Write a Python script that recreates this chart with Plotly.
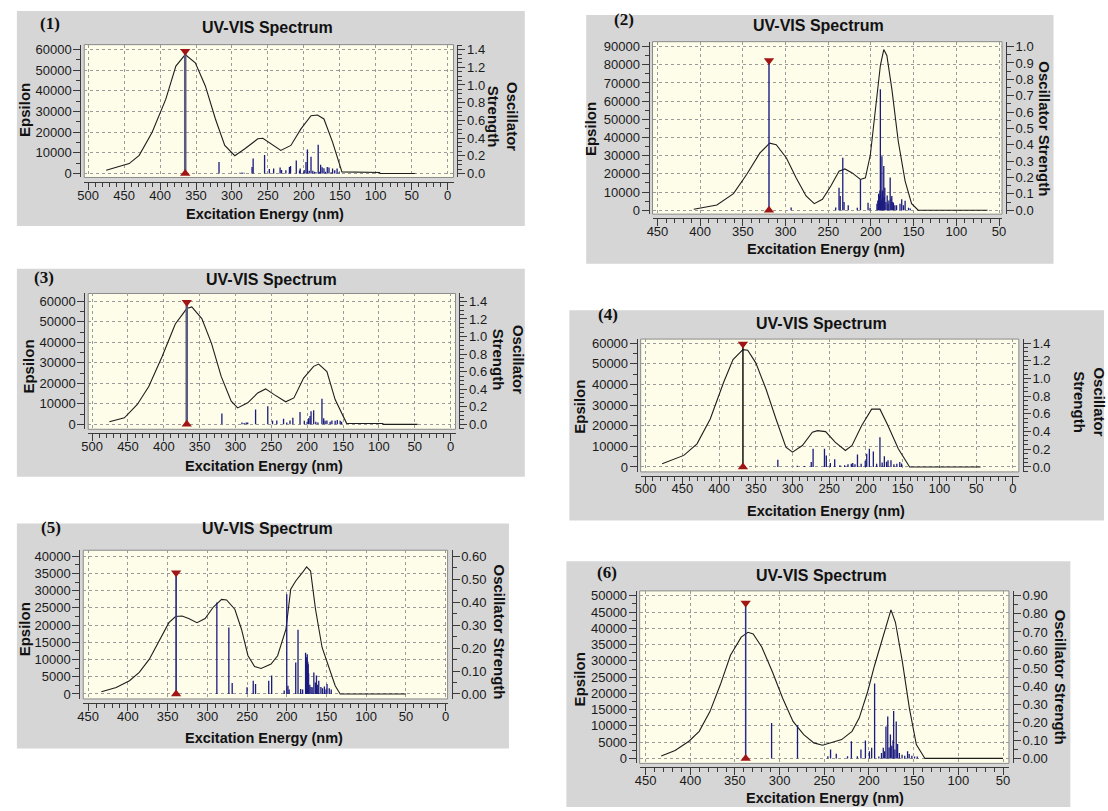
import plotly.graph_objects as go

W, H = 1108, 811

# ---------------- data ----------------
# Panel 1
wl_1 = [475, 443, 429, 411, 392, 378, 365, 351, 337, 323, 310, 296, 282, 264, 257, 245, 232, 218, 204, 190, 181, 172, 160, 147, 120, 94.5, 94, 45]
eps_1 = [1600, 4800, 8800, 20000, 36000, 52000, 57600, 53600, 42400, 26400, 13600, 8600, 12000, 16800, 17100, 14400, 11200, 13600, 21600, 28000, 28300, 26400, 15200, 800, 480, 480, 0, 0]
stk_wl_1 = [318, 289, 286, 283, 272, 270.5, 254.6, 248, 242, 233, 231, 225, 220, 218.5, 210.5, 206, 205, 200, 199.5, 197, 195, 192.5, 190, 187.5, 185, 183, 180, 178.5, 176.6, 174.5, 172, 170, 167.4, 165, 162, 160, 157, 153.7, 151]
stk_f_1 = [0.13, 0.01, 0.012, 0.01, 0.075, 0.17, 0.21, 0.05, 0.056, 0.067, 0.04, 0.037, 0.075, 0.086, 0.146, 0.035, 0.056, 0.015, 0.04, 0.13, 0.27, 0.03, 0.19, 0.03, 0.02, 0.015, 0.325, 0.02, 0.1, 0.07, 0.06, 0.02, 0.075, 0.067, 0.015, 0.056, 0.037, 0.056, 0.015]
peak_wl_1, peak_f_1 = 365, 1.38

# Panel 2
wl_2 = [407.5, 380.4, 361, 345.6, 330, 318.6, 310.9, 299, 287.7, 276, 266.4, 256.8, 247, 237.4, 230.5, 222, 212.3, 206.5, 200.7, 195, 189, 185, 181.4, 175.6, 168, 160, 152.4, 144.7, 63.5]
eps_2 = [550, 2900, 9100, 19600, 31500, 36900, 36000, 28700, 17800, 7800, 3600, 6000, 13300, 21500, 22700, 20500, 16900, 17800, 30500, 54200, 79600, 88400, 85100, 66900, 37800, 16000, 3600, 0, 0]
stk_wl_2 = [293.5, 241.3, 237.4, 236, 233, 231.5, 226.6, 216, 212.3, 203.4, 201, 193, 192, 191, 190, 189.5, 189, 188.5, 188, 187.2, 186.5, 186, 185, 184.5, 183.8, 182.5, 181, 180, 179, 177.5, 176.5, 175.6, 174.5, 173.7, 172, 170, 166, 164, 162, 160, 156, 154]
stk_f_2 = [0.016, 0.016, 0.137, 0.087, 0.32, 0.05, 0.03, 0.015, 0.188, 0.046, 0.015, 0.04, 0.06, 0.1, 0.09, 0.12, 0.74, 0.1, 0.06, 0.33, 0.12, 0.08, 0.27, 0.08, 0.137, 0.05, 0.09, 0.04, 0.06, 0.2, 0.07, 0.087, 0.05, 0.046, 0.03, 0.03, 0.04, 0.067, 0.03, 0.057, 0.015, 0.01]
peak_wl_2, peak_f_2 = 319.4, 0.915

# Panel 3
wl_3 = [476, 455, 437, 421, 402.5, 384, 368, 361, 347, 333.5, 320, 306, 297, 283, 269, 258, 246, 230, 218.5, 205, 191, 184, 172.5, 161, 145, 120, 94.5, 94, 46]
eps_3 = [1290, 3200, 9700, 18500, 33000, 49000, 56500, 57300, 51600, 39500, 23400, 11300, 8000, 10500, 15300, 17300, 14500, 11000, 12900, 22600, 28300, 29400, 25800, 12100, 480, 400, 400, 0, 0]
stk_wl_3 = [319, 291, 288, 285, 283, 272, 255, 248.4, 242.4, 233, 228.5, 224, 220, 210, 204, 200, 198, 196, 194.6, 191, 188, 185, 179.4, 177, 175, 172.5, 168, 165.5, 161, 158, 154, 152]
stk_f_3 = [0.124, 0.02, 0.015, 0.02, 0.02, 0.17, 0.207, 0.04, 0.045, 0.064, 0.02, 0.045, 0.075, 0.14, 0.04, 0.03, 0.07, 0.094, 0.15, 0.16, 0.03, 0.02, 0.29, 0.07, 0.04, 0.045, 0.03, 0.045, 0.04, 0.05, 0.04, 0.03]
peak_wl_3, peak_f_3 = 368, 1.39

# Panel 4
wl_4 = [477.5, 448, 430, 412, 394, 381, 367.5, 361, 350, 336, 322.5, 309, 300, 286.6, 273, 266, 255, 242, 228, 219, 206, 192.3, 181, 170, 156, 140.6, 44]
eps_4 = [1600, 5600, 11200, 23200, 40800, 52000, 56800, 56500, 50400, 37600, 23200, 9600, 7200, 10400, 16800, 17600, 17100, 12000, 8000, 10400, 20000, 28000, 28000, 20000, 8800, 0, 0]
stk_wl_4 = [320, 293.5, 284, 274.5, 272, 256.5, 254, 248.5, 242.6, 235.5, 229, 224.5, 220, 218, 215, 211.6, 206.6, 201, 199, 195.4, 190, 185.5, 181, 178, 175, 172, 170, 166, 162, 158, 154, 151.5]
stk_f_4 = [0.082, 0.015, 0.012, 0.056, 0.205, 0.205, 0.13, 0.045, 0.086, 0.02, 0.02, 0.03, 0.037, 0.045, 0.03, 0.14, 0.037, 0.07, 0.15, 0.205, 0.175, 0.037, 0.336, 0.05, 0.12, 0.06, 0.075, 0.075, 0.03, 0.035, 0.056, 0.04]
peak_wl_4, peak_f_4 = 367.5, 1.39

# Panel 5
wl_5 = [433.4, 414.7, 398, 385.7, 373, 360.8, 348.4, 340, 331.8, 323.5, 313, 302.8, 292.4, 282, 275.8, 265.4, 257, 248.8, 240.5, 232.3, 219.8, 211.5, 201, 195, 188.7, 180.4, 175, 170, 163.8, 155.5, 147.2, 139, 132.7, 49.8]
eps_5 = [670, 1900, 3860, 6260, 10100, 15400, 20700, 22500, 22650, 21900, 20700, 21900, 25250, 27470, 27300, 24600, 18800, 11100, 8000, 7400, 8700, 11100, 18800, 30400, 32800, 35200, 36900, 35700, 24600, 13500, 8200, 2400, 0, 0]
stk_wl_5 = [288, 272.9, 268.7, 250, 242.2, 239.3, 222.7, 219, 203.2, 200, 198.5, 197, 188.7, 185.8, 182.5, 180, 176.3, 175.5, 175, 174.2, 173.5, 173, 172.5, 171, 169.5, 168, 165.9, 164, 162.6, 161, 159.7, 157, 155, 152.6, 150.5, 149.3, 146.5, 144]
stk_f_5 = [0.398, 0.29, 0.048, 0.029, 0.058, 0.043, 0.058, 0.08, 0.015, 0.434, 0.036, 0.02, 0.137, 0.28, 0.022, 0.02, 0.18, 0.15, 0.16, 0.173, 0.14, 0.13, 0.09, 0.04, 0.03, 0.029, 0.094, 0.05, 0.08, 0.04, 0.058, 0.03, 0.025, 0.033, 0.02, 0.043, 0.025, 0.02]
peak_wl_5, peak_f_5 = 339.3, 0.528

# Panel 6
wl_6 = [432.5, 417, 401.5, 390, 378, 366.5, 355, 343, 335.4, 329.6, 320, 308, 296.6, 285, 273, 261.7, 252, 242, 230.6, 219, 211, 201.5, 193.7, 186, 178, 175.4, 170.4, 162.6, 154.8, 147, 137.4, 50]
eps_6 = [710, 2440, 5280, 8330, 14400, 22560, 31700, 37300, 38800, 38300, 34250, 26600, 18500, 11400, 7300, 4780, 4070, 4780, 5800, 8330, 12400, 20500, 28660, 35800, 43900, 45700, 41870, 29700, 15450, 4270, 0, 0]
stk_wl_6 = [309, 280, 246, 243, 236.6, 224, 219.7, 213, 209, 204, 199.5, 197, 193.7, 189, 186, 184, 182.5, 181, 179, 177.5, 176, 174.5, 173, 172.4, 171, 169.5, 168, 166, 163, 160, 156.8, 155, 152, 149, 146]
stk_f_6 = [0.196, 0.183, 0.012, 0.049, 0.026, 0.012, 0.095, 0.012, 0.049, 0.099, 0.04, 0.059, 0.415, 0.01, 0.03, 0.059, 0.04, 0.177, 0.232, 0.06, 0.132, 0.07, 0.1, 0.263, 0.05, 0.205, 0.08, 0.03, 0.02, 0.015, 0.04, 0.025, 0.015, 0.01, 0.01]
peak_wl_6, peak_f_6 = 338, 0.86

# tick settings per panel
x_dtick = [50, 50, 50, 50, 50, 50]
eps_dtick = [10000, 10000, 10000, 10000, 5000, 5000]
osc_dtick = [0.2, 0.1, 0.2, 0.2, 0.1, 0.1]
osc_fmt = [".1f", ".1f", ".1f", ".1f", ".2f", ".2f"]
labels = ["(1)", "(2)", "(3)", "(4)", "(5)", "(6)"]
osc_titles = ["Oscillator<br>Strength", "Oscillator Strength", "Oscillator<br>Strength",
              "Oscillator<br>Strength", "Oscillator Strength", "Oscillator Strength"]

curves = [(wl_1, eps_1), (wl_2, eps_2), (wl_3, eps_3), (wl_4, eps_4), (wl_5, eps_5), (wl_6, eps_6)]
sticks = [(stk_wl_1, stk_f_1), (stk_wl_2, stk_f_2), (stk_wl_3, stk_f_3),
          (stk_wl_4, stk_f_4), (stk_wl_5, stk_f_5), (stk_wl_6, stk_f_6)]
peaks = [(peak_wl_1, peak_f_1), (peak_wl_2, peak_f_2), (peak_wl_3, peak_f_3),
         (peak_wl_4, peak_f_4), (peak_wl_5, peak_f_5), (peak_wl_6, peak_f_6)]

# ---------------- layout geometry (pixels) ----------------
geom = [
    dict(gray=(10, 8, 523, 225), frame=(78, 42, 451, 176), xt=((82, 500), (445, 0)),
         yt=((47, 60000), (172, 0)), rt=((47, 1.4), (172, 0)), xline=181,
         title=(263, 25), label=(43, 21), eps=(17, 108), osc=(501, 114), xtitle=(261, 213),
         peakcolor="#5a5a7e", peakw=2.5),
    dict(gray=(585, 12, 1057, 263), frame=(652, 39, 1005, 213), xt=((657, 450), (1002, 50)),
         yt=((44, 90000), (209, 0)), rt=((44, 1.0), (209, 0)), xline=217,
         title=(820, 23), label=(623, 17), eps=(590, 127), osc=(1048, 127), xtitle=(827, 248),
         peakcolor="#2a2a8a", peakw=1.5),
    dict(gray=(10, 268, 523, 478), frame=(82, 293, 453, 430), xt=((86, 500), (448, 0)),
         yt=((301, 60000), (425, 0)), rt=((301, 1.4), (425, 0)), xline=434,
         title=(267, 279), label=(37, 277), eps=(22, 367), osc=(506, 360), xtitle=(260, 467),
         peakcolor="#5a5a7e", peakw=2.5),
    dict(gray=(568, 310, 1108, 522), frame=(640, 339, 1022, 473), xt=((645, 500), (1016, 0)),
         yt=((343, 60000), (468, 0)), rt=((343, 1.4), (468, 0)), xline=477,
         title=(823, 323), label=(607, 314), eps=(578, 407), osc=(1093, 402), xtitle=(827, 512),
         peakcolor="#111111", peakw=1.5),
    dict(gray=(10, 525, 507, 752), frame=(77, 552, 445, 702), xt=((82, 450), (443, 0)),
         yt=((558, 40000), (697, 0)), rt=((558, 0.6), (697, 0)), xline=706,
         title=(263, 530), label=(44, 529), eps=(18, 632), osc=(497, 634), xtitle=(260, 741),
         peakcolor="#3a3a8a", peakw=1.8),
    dict(gray=(565, 563, 1074, 811), frame=(639, 593, 1012, 767), xt=((645, 450), (1006, 50)),
         yt=((598, 50000), (762, 0)), rt=((598, 0.9), (762, 0)), xline=771,
         title=(823, 577), label=(606, 574), eps=(578, 682), osc=(1064, 680), xtitle=(826, 802),
         peakcolor="#2a2a8a", peakw=1.5),
]


def lin(p, a, b):
    (pa, va), (pb, vb) = a, b
    return va + (p - pa) * (vb - va) / (pb - pa)


FONT = "Liberation Sans, Arial, sans-serif"
TICKFONT = dict(family=FONT, size=13, color="#1a1a1a")
GRID = "#9a9a9a"
AX = "#3a3a3a"

fig = go.Figure()
shapes = []
annotations = []
layout = {}

for i, g in enumerate(geom):
    n = i + 1
    xid = "x" if n == 1 else f"x{n}"
    yid = "y" if n == 1 else f"y{n}"
    rid = f"y{n + 6}"
    xkey = "xaxis" if n == 1 else f"xaxis{n}"
    ykey = "yaxis" if n == 1 else f"yaxis{n}"
    rkey = f"yaxis{n + 6}"

    fx0, fy0, fx1, fy1 = g["frame"]
    gx0, gy0, gx1, gy1 = g["gray"]
    shapes.append(dict(type="rect", xref="paper", yref="paper", layer="below",
                       x0=gx0 / W, x1=gx1 / W, y0=1 - gy1 / H, y1=1 - gy0 / H,
                       fillcolor="#d6d6d6", line=dict(width=0)))
    shapes.append(dict(type="rect", xref="paper", yref="paper", layer="below",
                       x0=fx0 / W, x1=fx1 / W, y0=1 - fy1 / H, y1=1 - fy0 / H,
                       fillcolor="#fdfde9", line=dict(color="#8a8a8a", width=1)))

    xdom = [fx0 / W, fx1 / W]
    ydom = [1 - fy1 / H, 1 - fy0 / H]
    xr = [lin(fx0, *g["xt"]), lin(fx1, *g["xt"])]
    yr = [lin(fy1, *g["yt"]), lin(fy0, *g["yt"])]
    rr = [lin(fy1, *g["rt"]), lin(fy0, *g["rt"])]

    layout[xkey] = dict(domain=xdom, range=xr, anchor="free", position=1 - g["xline"] / H,
                        showline=True, linecolor=AX, linewidth=1, ticks="outside",
                        ticklen=7, tickcolor=AX, dtick=x_dtick[i], tick0=0,
                        tickfont=TICKFONT, ticklabelstandoff=-6,
                        showgrid=True, gridcolor=GRID, griddash="3px,3px",
                        gridwidth=1, zeroline=False,
                        minor=dict(dtick=10, ticklen=4, tickcolor=AX, showgrid=False))
    layout[ykey] = dict(domain=ydom, range=yr, anchor="free", position=(fx0 - 4) / W,
                        showline=True, linecolor=AX, linewidth=1, ticks="outside",
                        ticklen=7, tickcolor=AX, dtick=eps_dtick[i], tick0=0,
                        tickformat="d", tickfont=TICKFONT, ticklabelstandoff=-1,
                        showgrid=True, gridcolor=GRID, griddash="3px,3px",
                        gridwidth=1, zeroline=False,
                        minor=dict(dtick=eps_dtick[i] / 2, ticklen=4, tickcolor=AX, showgrid=False))
    layout[rkey] = dict(domain=ydom, range=rr, overlaying=yid, side="right", anchor="free",
                        position=(fx1 + 4) / W, showline=True, linecolor=AX, linewidth=1,
                        ticks="outside", ticklen=7, tickcolor=AX, dtick=osc_dtick[i], tick0=0,
                        tickformat=osc_fmt[i], tickfont=TICKFONT, ticklabelstandoff=-1,
                        showgrid=False, zeroline=False,
                        minor=dict(dtick=0.05, ticklen=4, tickcolor=AX, showgrid=False))

    # absorption curve
    cx, cy = curves[i]
    fig.add_trace(go.Scatter(x=cx, y=cy, mode="lines", line=dict(color="#1e1e1e", width=1.1),
                             xaxis=xid, yaxis=yid, hoverinfo="skip", showlegend=False))
    # stick spectrum
    sx, sf = sticks[i]
    lx, ly = [], []
    for w_, f_ in zip(sx, sf):
        lx += [w_, w_, None]
        ly += [0, f_, None]
    fig.add_trace(go.Scatter(x=lx, y=ly, mode="lines", line=dict(color="#1b1b80", width=1.3),
                             xaxis=xid, yaxis=rid, hoverinfo="skip", showlegend=False))
    # selected transition
    pw, pf = peaks[i]
    fig.add_trace(go.Scatter(x=[pw, pw], y=[0, pf], mode="lines",
                             line=dict(color=g["peakcolor"], width=g["peakw"]),
                             xaxis=xid, yaxis=rid, hoverinfo="skip", showlegend=False))
    fig.add_trace(go.Scatter(x=[pw, pw], y=[pf, 0], mode="markers",
                             marker=dict(symbol=["triangle-down", "triangle-up"], size=9,
                                         color="#a01515", line=dict(width=0)),
                             xaxis=xid, yaxis=rid, hoverinfo="skip", showlegend=False,
                             cliponaxis=False))

    def ann(text, pos, size, bold=True, angle=0, family=FONT):
        annotations.append(dict(text=f"<b>{text}</b>" if bold else text, x=pos[0] / W,
                                y=1 - pos[1] / H, xref="paper", yref="paper",
                                xanchor="center", yanchor="middle", showarrow=False,
                                textangle=angle, font=dict(family=family, size=size, color="#111111")))

    ann("UV-VIS Spectrum", g["title"], 16)
    ann(labels[i], g["label"], 17, family="Liberation Serif, Times New Roman, serif")
    ann("Epsilon", g["eps"], 15, angle=-90)
    ann(osc_titles[i], g["osc"], 15, angle=90)
    ann("Excitation Energy (nm)", g["xtitle"], 14.5)

fig.update_layout(width=W, height=H, margin=dict(l=0, r=0, t=0, b=0),
                  paper_bgcolor="white", plot_bgcolor="rgba(0,0,0,0)",
                  shapes=shapes, annotations=annotations, showlegend=False, **layout)

fig.write_html("out.html", config={"displayModeBar": False},
               post_script="document.body.style.margin='0px';")
